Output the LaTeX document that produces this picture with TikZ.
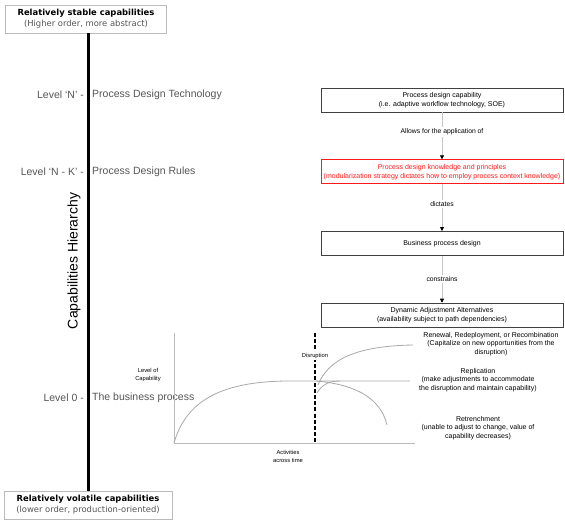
\documentclass[tikz,border=0pt]{standalone}
\usepackage{fontspec}
\setmainfont{Liberation Sans}
\newfontfamily\endfont{DejaVu Sans}
\usetikzlibrary{arrows.meta, positioning}
\definecolor{lvltext}{HTML}{555555}
\definecolor{frameline}{HTML}{BBBBBB}
\definecolor{flowline}{HTML}{C4C4C4}
\definecolor{curveline}{HTML}{A8A8A8}
\definecolor{keyred}{HTML}{FF1A1A}
\tikzset{
  endbox/.style    = {draw=frameline, line width=0.8pt, align=center, inner sep=1pt,
                      minimum height=28pt, font=\endfont\fontsize{8.4}{11}\selectfont},
  lvlname/.style   = {font=\fontsize{10.5}{12}\selectfont, text=lvltext, inner sep=0pt},
  flowbox/.style   = {draw=black!75, line width=0.7pt, align=center, inner sep=1pt,
                      minimum width=242pt, minimum height=24pt, font=\fontsize{7}{9}\selectfont},
  redbox/.style    = {flowbox, draw=keyred, text=keyred},
  flow/.style      = {-{Triangle[length=4pt, width=4pt, color=black]}, draw=flowline, line width=0.8pt},
  flowlabel/.style = {fill=white, inner sep=1.5pt, font=\fontsize{6.8}{7}\selectfont},
  axis/.style      = {draw=frameline, line width=0.7pt},
  curve/.style     = {draw=curveline, line width=0.8pt},
  disrupt/.style   = {draw=black, line width=1.6pt, dash pattern=on 4pt off 2.2pt},
  small/.style     = {align=center, inner sep=0pt, font=\fontsize{5.8}{8}\selectfont},
  outcome/.style   = {align=center, inner sep=0pt, font=\fontsize{7}{8.6}\selectfont},
}

\begin{document}
\begin{tikzpicture}[x=1pt, y=-1pt, node distance=47pt]
  \useasboundingbox (0,0) rectangle (565,521);

  % hierarchy axis with its two ends
  \node[endbox, minimum width=161pt] (stable) at (86,19)
    {\textbf{Relatively stable capabilities}\\ \textcolor{lvltext}{(Higher order, more abstract)}};
  \node[endbox, minimum width=168pt] (volatile) at (88,505)
    {\textbf{Relatively volatile capabilities}\\ \textcolor{lvltext}{(lower order, production-oriented)}};
  \draw[line width=3pt] (stable.south -| volatile.north) -- (volatile.north);
  \node[rotate=90, font=\fontsize{14}{16}\selectfont] (hier) at (74,261) {Capabilities Hierarchy};

  % levels
  \node[lvlname, anchor=east] (lvlN)  at (84,95)  {Level `N' -};
  \node[lvlname, anchor=west] (tech)  at (92,95)  {Process Design Technology};
  \node[lvlname, anchor=east] (lvlNK) at (84,172) {Level `N - K' -};
  \node[lvlname, anchor=west] (rules) at (92,172) {Process Design Rules};
  \node[lvlname, anchor=east] (lvl0)  at (84,398) {Level 0 -};
  \node[lvlname, anchor=west] (biz)   at (92,398) {The business process};

  % chain on the right
  \node[flowbox] (cap) at (442,100) {Process design capability\\(i.e. adaptive workflow technology, SOE)};
  \node[redbox, below=of cap] (know) {Process design knowledge and principles\\(modularization strategy dictates how to employ process context knowledge)};
  \node[flowbox, below=of know] (bpd) {Business process design};
  \node[flowbox, below=of bpd] (dyn) {Dynamic Adjustment Alternatives\\(availability subject to path dependencies)};
  \draw[flow] (cap)  -- node[flowlabel, pos=0.42] {Allows for the application of} (know);
  \draw[flow] (know) -- node[flowlabel, pos=0.42] {dictates} (bpd);
  \draw[flow] (bpd)  -- node[flowlabel, pos=0.5]  {constrains} (dyn);

  % capability over time
  \coordinate (o) at (174,443);
  \draw[axis] (174,333) -- (o) -- (415,443);
  \draw[curve] (o) .. controls (185,405) and (215,381) .. (290,381) -- (410,381);
  \draw[curve] (318,385) .. controls (328,360) and (355,346) .. (413,345);
  \draw[curve] (317,393) .. controls (322,385) and (328,381) .. (340,381);
  \draw[curve] (316,381) .. controls (350,384) and (380,395) .. (387,425);
  \draw[disrupt] (315,333) -- (315,443);
  \node[small, fill=white, inner sep=1pt] (dis) at (315,356) {Disruption};
  \node[small] (ylab) at (148,375) {Level of\\Capability};
  \node[small] (xlab) at (288,456) {Activities\\across time};

  % outcomes
  \node[outcome] (renew)  at (491,344) {Renewal, Redeployment, or Recombination\\(Capitalize on new opportunities from the\\disruption)};
  \node[outcome] (repl)   at (478,380) {Replication\\(make adjustments to accommodate\\the disruption and maintain capability)};
  \node[outcome] (retr)   at (478,428) {Retrenchment\\(unable to adjust to change, value of\\capability decreases)};
\end{tikzpicture}
\end{document}
